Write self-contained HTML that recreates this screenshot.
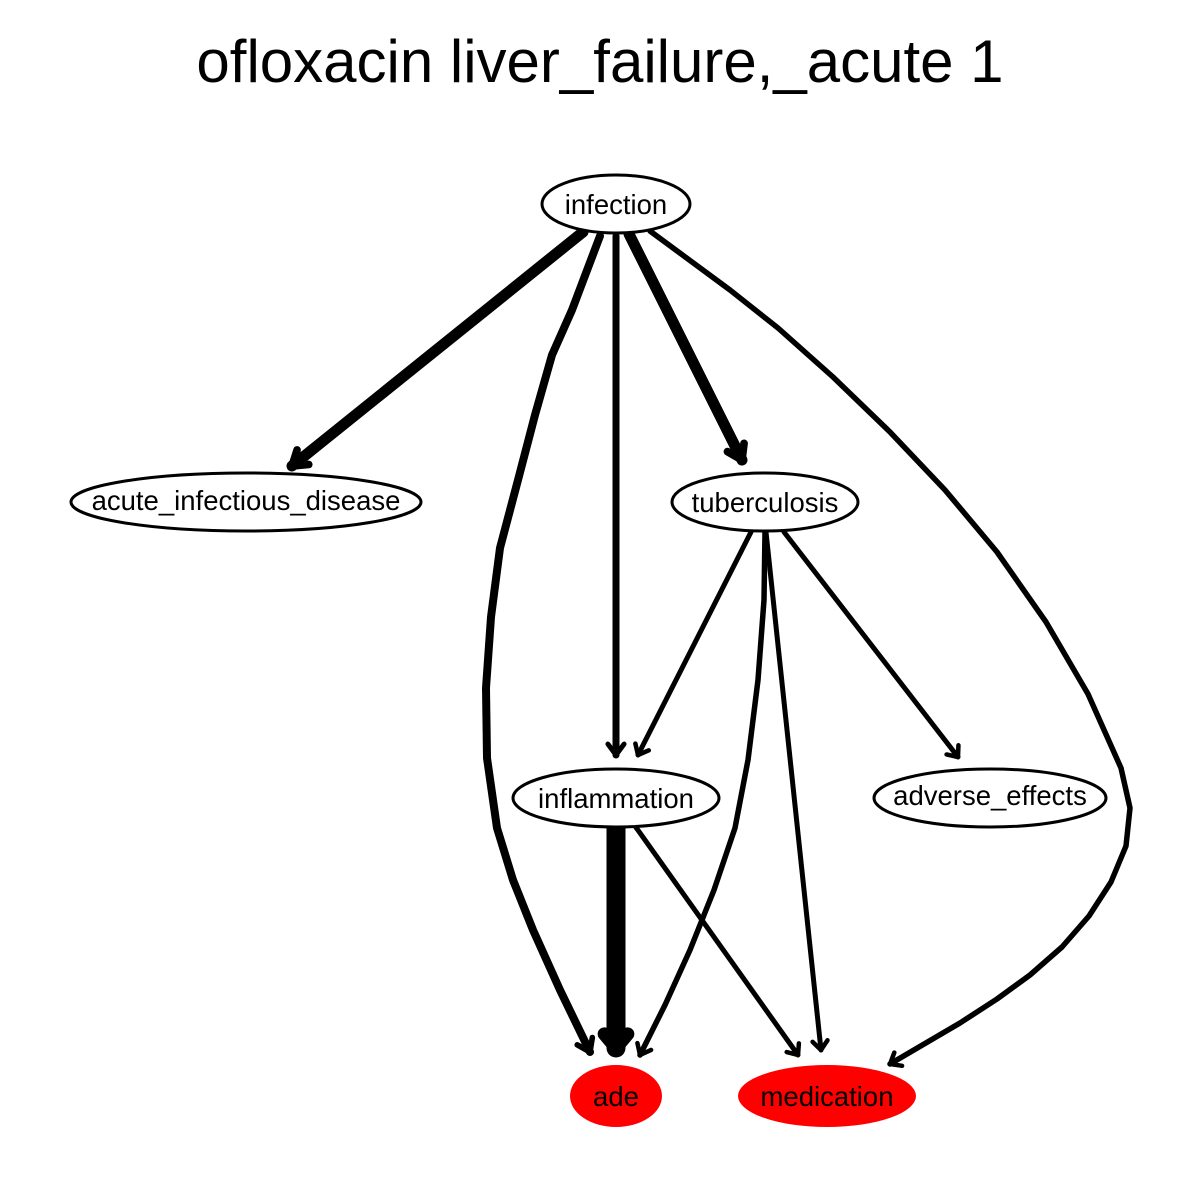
<!DOCTYPE html>
<html><head><meta charset="utf-8"><style>
html,body{margin:0;padding:0;background:#fff;}
svg{display:block;}
text{font-family:"Liberation Sans",sans-serif;}
</style></head><body>
<svg id="s" width="1200" height="1200" viewBox="0 0 1200 1200" xmlns="http://www.w3.org/2000/svg">
<rect width="1200" height="1200" fill="#fff"/>
<text x="600" y="82" font-size="60" text-anchor="middle">ofloxacin liver_failure,_acute 1</text>
<g id="edges" fill="none" stroke="#000" stroke-linecap="round" stroke-linejoin="round"></g>
<g stroke="#000" stroke-width="3">
<ellipse cx="616" cy="204" rx="74" ry="29" fill="#fff"/>
<ellipse cx="246" cy="502" rx="175" ry="29" fill="#fff"/>
<ellipse cx="765" cy="502" rx="93" ry="29" fill="#fff"/>
<ellipse cx="616" cy="798" rx="103" ry="29" fill="#fff"/>
<ellipse cx="990" cy="798" rx="116" ry="29" fill="#fff"/>
</g>
<ellipse cx="616" cy="1096" rx="46" ry="31" fill="#f00"/>
<ellipse cx="827" cy="1096" rx="89" ry="31" fill="#f00"/>
<g font-size="27.5" text-anchor="middle">
<text x="616" y="214">infection</text>
<text x="246" y="510">acute_infectious_disease</text>
<text x="765" y="512">tuberculosis</text>
<text x="616" y="808">inflammation</text>
<text x="990" y="805">adverse_effects</text>
<text x="616" y="1106">ade</text>
<text x="827" y="1106">medication</text>
</g>
</svg>
<script>
var E=[
[11,[[583,232],[292,466]]],
[8,[[600,236],[572,310],[552,355],[535,415],[518,480],[500,548],[491,617],[486,688],[487,758],[497,828],[513,880],[533,930],[560,990],[590,1052]]],
[7,[[616,236],[616,755]]],
[11,[[629,234],[742,460]]],
[5.5,[[650,231],[730,290],[778,328],[833,377],[890,432],[945,490],[997,552],[1046,622],[1088,694],[1121,768],[1130,808],[1126,846],[1111,882],[1089,916],[1062,947],[1030,975],[997,999],[960,1023],[890,1064]]],
[5,[[751,532],[638,755]]],
[5.5,[[765,532],[764,600],[758,680],[748,760],[735,828],[714,890],[690,950],[665,1005],[640,1055]]],
[5,[[766,532],[821,1050]]],
[5,[[784,532],[958,757]]],
[19,[[616,828],[616,1048]]],
[5,[[635,826],[798,1055]]]
];
var g=document.getElementById('edges'),ns='http://www.w3.org/2000/svg';
E.forEach(function(e){
 var w=e[0],p=e[1];
 var pl=document.createElementNS(ns,'polyline');
 pl.setAttribute('points',p.map(function(a){return a.join(',')}).join(' '));
 pl.setAttribute('stroke-width',w);g.appendChild(pl);
 var a=p[p.length-2],b=p[p.length-1],dx=b[0]-a[0],dy=b[1]-a[1],L=Math.hypot(dx,dy);dx/=L;dy/=L;
 var len=Math.min(14,4+w),wid=6+w*0.3;
 var bx=b[0]-dx*len,by=b[1]-dy*len;
 var v=document.createElementNS(ns,'polyline');
 v.setAttribute('points',(bx-dy*wid)+','+(by+dx*wid)+' '+b[0]+','+b[1]+' '+(bx+dy*wid)+','+(by-dx*wid));
 v.setAttribute('stroke-width',Math.max(4.5,w*0.7));g.appendChild(v);
});
</script>
</body></html>
